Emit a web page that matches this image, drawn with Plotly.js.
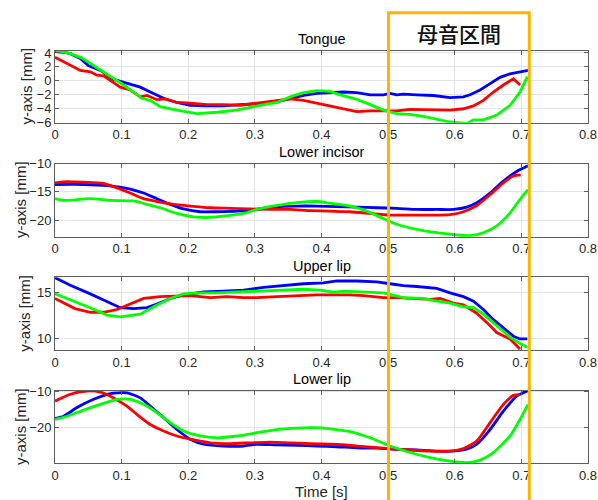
<!DOCTYPE html>
<html>
<head>
<meta charset="utf-8">
<script src="https://cdn.plot.ly/plotly-3.0.1.min.js"></script>
<style>html,body{margin:0;padding:0;background:#fff;}#chart{width:598px;height:500px;}</style>
</head>
<body>
<div id="chart"></div>
<script>
// ---------- data ----------
const panelTitles = ["Tongue", "Lower incisor", "Upper lip", "Lower lip"];
const xTickVals = [0, 0.1, 0.2, 0.3, 0.4, 0.5, 0.6, 0.7, 0.8];
const xTickText = ["0", "0.1", "0.2", "0.3", "0.4", "0.5", "0.6", "0.7", "0.8"];
const yTicks1 = [-6, -4, -2, 0, 2, 4];
const yTicks2 = [-20, -15, -10];
const yTicks3 = [10, 15];
const yTicks4 = [-20, -10];
const boxLabel = "母音区間";

// Tongue
const tBlueT = [0,0.013,0.023,0.038,0.05,0.068,0.088,0.108,0.128,0.143,0.163,0.183,0.203,0.228,0.253,0.278,0.303,0.333,0.353,0.373,0.393,0.413,0.433,0.453,0.473,0.493,0.503,0.513,0.523,0.543,0.568,0.593,0.613,0.623,0.638,0.653,0.668,0.683,0.698,0.71];
const tBlueY = [4.2,4.1,3.9,3.2,2.2,1.5,0.2,-0.4,-0.9,-1.6,-2.5,-3.1,-3.5,-3.6,-3.6,-3.4,-3.3,-3.0,-2.5,-2.1,-1.8,-1.7,-1.6,-1.7,-2.0,-2.0,-1.8,-2.0,-1.9,-2.0,-2.1,-2.4,-2.3,-2.0,-1.3,-0.4,0.5,1.0,1.3,1.5];
const tRedT = [0,0.018,0.038,0.053,0.063,0.073,0.088,0.098,0.113,0.128,0.138,0.153,0.165,0.183,0.203,0.228,0.253,0.278,0.303,0.333,0.353,0.373,0.393,0.413,0.433,0.453,0.473,0.493,0.513,0.533,0.553,0.573,0.593,0.613,0.628,0.643,0.658,0.673,0.688,0.698];
const tRedY = [3.4,2.5,1.5,1.3,0.8,0.7,-0.2,-0.9,-1.3,-2.3,-2.1,-2.7,-2.6,-3.1,-3.2,-3.4,-3.4,-3.5,-3.2,-2.8,-2.6,-2.8,-3.2,-3.7,-4.1,-4.4,-4.3,-4.3,-4.3,-4.1,-4.1,-4.2,-4.2,-4.0,-3.6,-2.8,-1.6,-0.6,0.3,-0.6];
const tGreenT = [0,0.023,0.04,0.058,0.073,0.088,0.103,0.118,0.13,0.143,0.158,0.183,0.213,0.243,0.273,0.303,0.333,0.353,0.373,0.393,0.413,0.428,0.448,0.468,0.493,0.513,0.533,0.553,0.573,0.593,0.618,0.628,0.643,0.663,0.683,0.698,0.709];
const tGreenY = [4.4,3.9,3.3,2.2,1.3,0.3,-0.6,-1.6,-2.5,-2.8,-3.7,-4.2,-4.7,-4.5,-4.2,-3.6,-3.1,-2.3,-1.7,-1.4,-1.5,-2.0,-2.5,-3.2,-4.2,-4.7,-4.8,-5.1,-5.5,-5.9,-6.1,-5.6,-5.6,-4.9,-3.5,-1.6,0.6];

// Lower incisor
const liBlueT = [0,0.043,0.078,0.113,0.133,0.153,0.173,0.193,0.218,0.243,0.273,0.303,0.333,0.363,0.393,0.423,0.453,0.483,0.513,0.543,0.573,0.598,0.618,0.633,0.653,0.673,0.693,0.71];
const liBlueY = [-13.7,-13.7,-13.9,-14.5,-15.2,-16.2,-17.2,-18.0,-18.5,-18.5,-18.4,-18.1,-17.6,-17.5,-17.5,-17.6,-17.7,-17.8,-17.9,-18.1,-18.1,-18.1,-17.7,-16.9,-15.2,-13.1,-11.4,-10.4];
const liRedT = [0,0.018,0.043,0.073,0.093,0.113,0.133,0.153,0.173,0.203,0.233,0.263,0.293,0.323,0.353,0.383,0.413,0.443,0.473,0.503,0.533,0.563,0.593,0.613,0.633,0.653,0.673,0.688,0.699];
const liRedY = [-13.4,-13.2,-13.3,-13.5,-14.3,-15.2,-16.2,-16.7,-17.1,-17.5,-17.8,-17.9,-18.0,-18.1,-18.1,-18.3,-18.4,-18.5,-18.8,-19.1,-19.1,-19.1,-19.0,-18.5,-17.4,-15.5,-13.4,-12.2,-12.0];
const liGreenT = [0,0.013,0.053,0.083,0.118,0.138,0.158,0.183,0.208,0.233,0.258,0.283,0.303,0.333,0.363,0.393,0.413,0.443,0.468,0.493,0.513,0.543,0.573,0.603,0.623,0.643,0.663,0.683,0.698,0.71];
const liGreenY = [-16.2,-16.5,-16.2,-16.5,-16.6,-17.2,-17.8,-18.8,-19.4,-19.5,-19.2,-18.8,-18.1,-17.4,-16.9,-16.7,-17.0,-17.5,-18.4,-19.7,-20.7,-21.6,-22.2,-22.6,-22.7,-22.2,-21.0,-18.7,-16.3,-14.6];

// Upper lip
const ulBlueT = [0,0.023,0.053,0.078,0.098,0.118,0.138,0.153,0.173,0.193,0.223,0.253,0.283,0.313,0.343,0.373,0.403,0.423,0.453,0.483,0.503,0.523,0.543,0.573,0.593,0.613,0.628,0.643,0.658,0.673,0.688,0.698,0.709];
const ulBlueY = [16.56,15.74,14.8,14.0,13.3,13.2,13.3,13.7,14.3,14.7,15.0,15.1,15.2,15.5,15.7,15.9,16.0,16.2,16.2,16.1,15.9,15.7,15.6,15.4,14.9,14.5,14.0,13.1,12.0,11.1,10.2,9.9,9.9];
const ulRedT = [0,0.013,0.03,0.053,0.073,0.093,0.113,0.133,0.158,0.183,0.203,0.233,0.258,0.283,0.303,0.333,0.363,0.393,0.423,0.443,0.463,0.483,0.493,0.513,0.543,0.563,0.578,0.598,0.613,0.633,0.648,0.663,0.683,0.698];
const ulRedY = [14.3,13.8,13.2,12.8,12.8,13.1,13.7,14.3,14.5,14.6,14.6,14.4,14.5,14.4,14.4,14.5,14.6,14.7,14.7,14.7,14.6,14.5,14.4,14.4,14.3,14.2,14.3,13.8,13.6,12.7,11.7,10.6,9.9,8.8];
const ulGreenT = [0,0.018,0.038,0.053,0.078,0.098,0.128,0.148,0.173,0.193,0.218,0.243,0.273,0.303,0.343,0.373,0.398,0.418,0.433,0.463,0.493,0.523,0.553,0.573,0.593,0.613,0.628,0.643,0.663,0.683,0.698,0.709];
const ulGreenY = [14.8,14.3,13.8,13.3,12.5,12.3,12.6,13.4,14.3,14.8,14.9,14.9,15.0,15.1,15.2,15.3,15.2,15.0,15.1,15.0,14.9,14.4,14.3,14.0,13.8,13.4,13.3,12.6,11.3,10.1,9.4,9.0];

// Lower lip
const llBlueT = [0,0.013,0.033,0.058,0.083,0.108,0.128,0.143,0.163,0.183,0.203,0.223,0.253,0.283,0.303,0.333,0.363,0.393,0.423,0.453,0.483,0.513,0.543,0.573,0.598,0.618,0.633,0.653,0.673,0.693,0.71];
const llBlueY = [-17.4,-16.8,-14.4,-12.1,-10.5,-10.3,-11.7,-14.0,-17.2,-20.5,-23.2,-24.6,-25.1,-25.1,-24.6,-24.8,-24.9,-25.1,-25.3,-25.6,-25.7,-26.0,-26.2,-26.5,-26.5,-26.0,-24.6,-20.5,-15.4,-11.2,-9.7];
const llRedT = [0,0.023,0.048,0.068,0.088,0.108,0.123,0.143,0.163,0.183,0.203,0.233,0.263,0.293,0.323,0.353,0.383,0.413,0.443,0.473,0.503,0.533,0.563,0.593,0.613,0.633,0.653,0.673,0.688,0.698];
const llRedY = [-12.6,-10.7,-9.8,-10.1,-11.7,-14.0,-16.3,-19.1,-20.9,-22.3,-23.2,-24.2,-24.4,-24.2,-24.0,-24.2,-24.4,-24.6,-24.9,-25.4,-25.8,-26.2,-26.5,-26.5,-25.8,-23.7,-18.6,-13.5,-11.0,-10.8];
const llGreenT = [0,0.018,0.043,0.068,0.093,0.113,0.133,0.153,0.173,0.193,0.218,0.243,0.273,0.303,0.333,0.363,0.388,0.413,0.443,0.473,0.503,0.533,0.563,0.593,0.618,0.638,0.658,0.683,0.698,0.71];
const llGreenY = [-17.7,-16.8,-15.1,-13.5,-12.1,-12.1,-13.5,-15.8,-18.6,-20.9,-22.3,-22.8,-22.3,-21.4,-20.5,-20.1,-20.0,-20.3,-21.1,-22.8,-25.1,-26.9,-28.3,-29.3,-29.7,-29.0,-26.9,-22.3,-17.7,-13.5];

// ---------- build ----------
const W = 598, H = 500;
const BLUE = "#0000FF", RED = "#FF0000", GREEN = "#00FF00", ORANGE = "#FFB400";
const FONT = "Liberation Sans, Arial, Helvetica, sans-serif";
const px = v => v / W;
const py = v => 1 - v / H;

// pixel extents of each panel [top, bottom]
const panelsPx = [[50.5, 122.7], [163.5, 236.7], [277.3, 350.0], [390.7, 463.3]];
const yRanges = [[-6.0, 4.35], [-22.9, -10.0], [8.7, 16.6], [-29.9, -9.7]];
const yTickSets = [yTicks1, yTicks2, yTicks3, yTicks4];
const yTitleX = [27, 20, 25, 20];

const series = [
  [[tBlueT, tBlueY, BLUE], [tRedT, tRedY, RED], [tGreenT, tGreenY, GREEN]],
  [[liBlueT, liBlueY, BLUE], [liRedT, liRedY, RED], [liGreenT, liGreenY, GREEN]],
  [[ulBlueT, ulBlueY, BLUE], [ulRedT, ulRedY, RED], [ulGreenT, ulGreenY, GREEN]],
  [[llBlueT, llBlueY, BLUE], [llRedT, llRedY, RED], [llGreenT, llGreenY, GREEN]]
];
const shapesSmooth = ["linear", "spline", "linear", "spline"];

const traces = [];
const layout = {
  width: W, height: H,
  margin: {l: 0, r: 0, t: 0, b: 0},
  paper_bgcolor: "#fff", plot_bgcolor: "#fff",
  showlegend: false,
  font: {family: FONT, size: 13, color: "#262626"},
  annotations: [], shapes: []
};

const axisCommon = {
  showline: true, mirror: "ticks", linecolor: "#5e5e5e", linewidth: 1,
  ticks: "inside", ticklen: 4, tickcolor: "#5e5e5e", tickwidth: 1,
  showgrid: true, gridcolor: "#e3e3e3", gridwidth: 1, zeroline: false,
  tickfont: {family: FONT, size: 13, color: "#262626"}, fixedrange: true
};

for (let i = 0; i < 4; i++) {
  const n = i + 1;
  const xa = "x" + (n === 1 ? "" : n), ya = "y" + (n === 1 ? "" : n);
  series[i].forEach(s => {
    traces.push({
      x: s[0], y: s[1], xaxis: xa, yaxis: ya, type: "scatter", mode: "lines",
      line: {color: s[2], width: 2.8, shape: shapesSmooth[i], smoothing: 0.6},
      hoverinfo: "skip", cliponaxis: true
    });
  });
  const [top, bot] = panelsPx[i];
  layout["xaxis" + (n === 1 ? "" : n)] = Object.assign({}, axisCommon, {
    domain: [px(55), px(588)], range: [0, 0.8], anchor: ya,
    tickvals: xTickVals, ticktext: xTickText
  });
  layout["yaxis" + (n === 1 ? "" : n)] = Object.assign({}, axisCommon, {
    domain: [py(bot), py(top)], range: yRanges[i], anchor: xa,
    tickvals: yTickSets[i]
  });
  layout.annotations.push({
    text: panelTitles[i], xref: "paper", yref: "paper",
    x: px(321.5), y: py(top - 1.5), xanchor: "center", yanchor: "bottom",
    showarrow: false, font: {family: FONT, size: 14.5, color: "#000"}
  });
  layout.annotations.push({
    text: "y-axis [mm]", xref: "paper", yref: "paper", textangle: -90,
    x: px(yTitleX[i]), y: py((top + bot) / 2), xanchor: "center", yanchor: "middle",
    showarrow: false, font: {family: FONT, size: 15, color: "#262626"}
  });
}

layout.annotations.push({
  text: "Time [s]", xref: "paper", yref: "paper",
  x: px(321.5), y: py(491), xanchor: "center", yanchor: "middle",
  showarrow: false, font: {family: FONT, size: 15, color: "#262626"}
});
layout.annotations.push({
  text: boxLabel, xref: "paper", yref: "paper",
  x: px(459), y: py(33), xanchor: "center", yanchor: "middle",
  showarrow: false, font: {family: "Noto Sans CJK JP, sans-serif", size: 21, color: "#111", weight: 500}
});

const bx0 = px(388.5), bx1 = px(529.3), byT = py(12.7), byB = py(505);
layout.shapes.push({
  type: "path", xref: "paper", yref: "paper", layer: "above",
  path: `M ${bx0} ${byB} L ${bx0} ${byT} L ${bx1} ${byT} L ${bx1} ${byB}`,
  line: {color: ORANGE, width: 3}
});

Plotly.newPlot("chart", traces, layout, {staticPlot: true, displayModeBar: false});
</script>
</body>
</html>
